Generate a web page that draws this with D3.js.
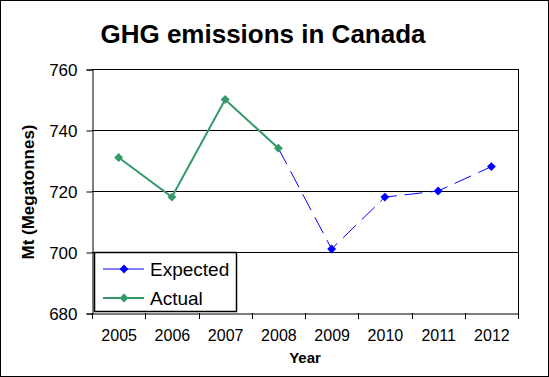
<!DOCTYPE html>
<html>
<head>
<meta charset="utf-8">
<script src="https://cdn.jsdelivr.net/npm/d3@7"></script>
<style>
  body { margin: 0; background: #fff; }
  text { font-family: Arial, "Liberation Sans", sans-serif; fill: #000; }
</style>
</head>
<body>
<div class="chart"></div>
<script>
// data
var years = [2005, 2006, 2007, 2008, 2009, 2010, 2011, 2012];
var actualYears = [2005, 2006, 2007, 2008];
var actual = [731, 718, 750, 734];
var expectedYears = [2008, 2009, 2010, 2011, 2012];
var expected = [734, 701, 718, 720, 728];
var yTicks = [680, 700, 720, 740, 760];

var W = 549, H = 377;
var plotLeft = 92, plotRight = 518, plotTop = 69, plotBottom = 313;

var svg = d3.select(".chart")
  .append("svg")
    .attr("width", W)
    .attr("height", H);

// outer frame
svg.append("rect")
  .attr("x", 0.5).attr("y", 0.5)
  .attr("width", W - 1).attr("height", H - 1)
  .attr("fill", "#fff").attr("stroke", "#000");

var x = d3.scaleLinear()
  .domain([years[0] - 0.5, years[years.length - 1] + 0.5])
  .range([plotLeft, plotRight]);

var y = d3.scaleLinear()
  .domain([680, 760])
  .range([plotBottom, plotTop]);

// gridlines
svg.append("g")
  .selectAll("line")
  .data(yTicks.filter(function(d) { return d > 680; }))
  .enter().append("line")
    .attr("x1", plotLeft).attr("x2", plotRight)
    .attr("y1", function(d) { return Math.round(y(d)) + 0.5; })
    .attr("y2", function(d) { return Math.round(y(d)) + 0.5; })
    .attr("stroke", "#000");

// right border of plot area
svg.append("line")
  .attr("x1", plotRight + 0.5).attr("x2", plotRight + 0.5)
  .attr("y1", plotTop).attr("y2", plotBottom)
  .attr("stroke", "#000");

// y axis
var yAxis = svg.append("g")
  .attr("transform", "translate(" + (plotLeft + 0.5) + ",0.5)")
  .call(d3.axisLeft(y).tickValues(yTicks).tickSize(6).tickPadding(9).tickFormat(d3.format("d")));
yAxis.selectAll("path,line").attr("stroke", "#000");
yAxis.selectAll("text").style("font-size", "17px").attr("dy", "0.36em");

// x axis
var xAxis = svg.append("g")
  .attr("transform", "translate(0," + (plotBottom + 0.5) + ")")
  .call(d3.axisBottom(x).tickValues(years).tickSize(0).tickPadding(16).tickFormat(d3.format("d")));
xAxis.select(".domain").attr("stroke", "#000");
xAxis.selectAll("text").style("font-size", "16px");

// x ticks sit between the categories
svg.append("g")
  .selectAll("line")
  .data(years.concat([years[years.length - 1] + 1]))
  .enter().append("line")
    .attr("x1", function(d) { return Math.round(x(d - 0.5)) + 0.5; })
    .attr("x2", function(d) { return Math.round(x(d - 0.5)) + 0.5; })
    .attr("y1", plotBottom).attr("y2", plotBottom + 6)
    .attr("stroke", "#000");

// titles
svg.append("text")
  .attr("x", 263).attr("y", 43)
  .attr("text-anchor", "middle")
  .style("font-size", "26px").style("font-weight", "bold")
  .text("GHG emissions in Canada");

svg.append("text")
  .attr("x", (plotLeft + plotRight) / 2).attr("y", 363)
  .attr("text-anchor", "middle")
  .style("font-size", "15px").style("font-weight", "bold")
  .text("Year");

svg.append("text")
  .attr("transform", "translate(34,192) rotate(-90)")
  .attr("text-anchor", "middle")
  .style("font-size", "17px").style("font-weight", "bold")
  .text("Mt (Megatonnes)");

var diamond = d3.symbol().type(d3.symbolDiamond2).size(50);

var expData = expectedYears.map(function(d, i) { return { year: d, value: expected[i] }; });
var actData = actualYears.map(function(d, i) { return { year: d, value: actual[i] }; });

var line = d3.line()
  .x(function(d) { return x(d.year); })
  .y(function(d) { return y(d.value); });

// expected series (dashed)
svg.append("path")
  .datum(expData)
  .attr("fill", "none")
  .attr("stroke", "#0000ff")
  .attr("stroke-width", 1)
  .attr("stroke-dasharray", "18,8")
  .attr("d", line);

svg.append("g")
  .selectAll("path")
  .data(expData.slice(1))
  .enter().append("path")
    .attr("transform", function(d) { return "translate(" + x(d.year) + "," + y(d.value) + ")"; })
    .attr("d", diamond)
    .attr("fill", "#0000ff");

// actual series
svg.append("path")
  .datum(actData)
  .attr("fill", "none")
  .attr("stroke", "#339966")
  .attr("stroke-width", 2)
  .attr("d", line);

svg.append("g")
  .selectAll("path")
  .data(actData)
  .enter().append("path")
    .attr("transform", function(d) { return "translate(" + x(d.year) + "," + y(d.value) + ")"; })
    .attr("d", diamond)
    .attr("fill", "#339966");

// legend
var legend = svg.append("g");
legend.append("rect")
  .attr("x", 94.5).attr("y", 252.5)
  .attr("width", 142).attr("height", 59)
  .attr("fill", "#fff").attr("stroke", "#000").attr("stroke-width", 1.5);

var items = [
  { name: "Expected", color: "#0000ff", w: 1, y: 269 },
  { name: "Actual", color: "#339966", w: 2, y: 298 }
];
items.forEach(function(it) {
  legend.append("line")
    .attr("x1", 103).attr("x2", 144)
    .attr("y1", it.y).attr("y2", it.y)
    .attr("stroke", it.color).attr("stroke-width", it.w);
  legend.append("path")
    .attr("transform", "translate(124," + it.y + ")")
    .attr("d", diamond)
    .attr("fill", it.color);
  legend.append("text")
    .attr("x", 150).attr("y", it.y)
    .attr("dy", "0.36em")
    .style("font-size", "19px")
    .text(it.name);
});
</script>
</body>
</html>
